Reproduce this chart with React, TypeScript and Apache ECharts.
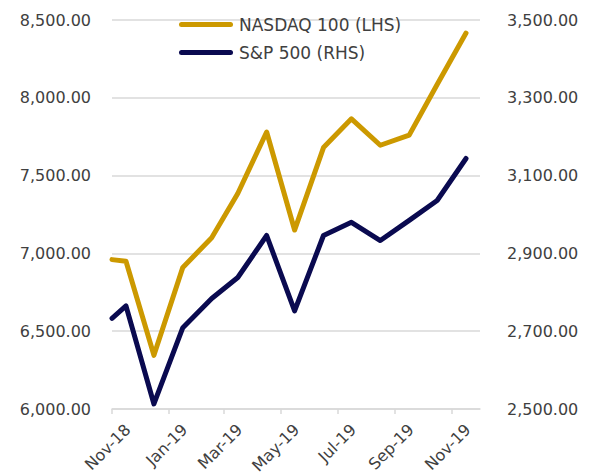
import React, { useEffect, useRef } from "react";
import * as echarts from "echarts";

const dates = [
  "2018-11-01", "2018-11-16", "2018-12-16", "2019-01-16", "2019-02-16",
  "2019-03-16", "2019-04-16", "2019-05-16", "2019-06-16", "2019-07-16",
  "2019-08-16", "2019-09-16", "2019-10-16", "2019-11-16",
];
const nasdaq100 = [6960, 6950, 6345, 6910, 7100, 7385, 7780, 7150, 7680, 7865, 7695, 7760, 8085, 8416];
const sp500 = [2733, 2765, 2513, 2709, 2784, 2838, 2946, 2752, 2946, 2980, 2933, 2985, 3036, 3144];
const tickDates = ["2018-11-01", "2019-01-01", "2019-03-01", "2019-05-01", "2019-07-01", "2019-09-01", "2019-11-01"];
const axisStart = "2018-11-01";
const axisEnd = "2019-12-01";
const seriesNames = ["NASDAQ 100 (LHS)", "S&P 500 (RHS)"];
const monthNames = ["Jan", "Feb", "Mar", "Apr", "May", "Jun", "Jul", "Aug", "Sep", "Oct", "Nov", "Dec"];

const DAY = 86400000;
const LABEL_SHIFT_DAYS = 17;

function ts(s: string): number {
  const [y, m, d] = s.split("-").map(Number);
  return Date.UTC(y, m - 1, d);
}
// day offset from the axis start
function dayOf(s: string): number {
  return Math.round((ts(s) - ts(axisStart)) / DAY);
}

function fmtNum(v: number): string {
  return v.toLocaleString("en-US", { minimumFractionDigits: 2, maximumFractionDigits: 2 });
}

export default function App() {
  const ref = useRef<HTMLDivElement>(null);
  useEffect(() => {
    if (!ref.current) return;
    const chart = echarts.init(ref.current, undefined, { renderer: "svg" });
    const font = "DejaVu Sans";
    const textColor = "#404040";
    const gridColor = "#D9D9D9";
    const pill = "path://M2.5,0 H51.5 A2.5,2.5 0 0 1 51.5,5 H2.5 A2.5,2.5 0 0 1 2.5,0 Z";
    chart.setOption({
      animation: false,
      backgroundColor: "#ffffff",
      textStyle: { fontFamily: font },
      grid: { left: 112, right: 113, top: 20, bottom: 65, containLabel: false, outerBoundsMode: "none" },
      legend: {
        orient: "vertical",
        left: 174,
        top: 11,
        itemWidth: 56,
        itemHeight: 5,
        itemGap: 11,
        textStyle: { fontFamily: font, fontSize: 17, color: textColor },
        data: [
          { name: seriesNames[0], icon: pill, itemStyle: { color: "#CC9900" } },
          { name: seriesNames[1], icon: pill, itemStyle: { color: "#0A0A50" } },
        ],
      },
      xAxis: {
        type: "value",
        min: 0,
        max: dayOf(axisEnd),
        splitLine: { show: false },
        axisLine: { show: true, lineStyle: { color: gridColor, width: 1.5 } },
        axisTick: {
          show: true,
          length: 5,
          lineStyle: { color: gridColor, width: 1.5 },
          customValues: tickDates.map(dayOf),
        },
        axisLabel: {
          rotate: 45,
          margin: 18,
          fontFamily: font,
          fontSize: 16,
          color: textColor,
          showMinLabel: true,
          showMaxLabel: true,
          customValues: tickDates.map((d) => dayOf(d) + LABEL_SHIFT_DAYS),
          formatter: (v: number) => {
            const d = new Date(ts(axisStart) + (v - LABEL_SHIFT_DAYS) * DAY);
            return monthNames[d.getUTCMonth()] + "-" + String(d.getUTCFullYear() % 100).padStart(2, "0");
          },
        },
      },
      yAxis: [
        {
          type: "value",
          min: 6000,
          max: 8500,
          interval: 500,
          position: "left",
          axisLine: { show: false },
          axisTick: { show: false },
          splitLine: { show: true, lineStyle: { color: gridColor, width: 1.5 } },
          axisLabel: { margin: 21, fontFamily: font, fontSize: 16, color: textColor, formatter: fmtNum },
        },
        {
          type: "value",
          min: 2500,
          max: 3500,
          interval: 200,
          position: "right",
          axisLine: { show: false },
          axisTick: { show: false },
          splitLine: { show: false },
          axisLabel: { margin: 27, fontFamily: font, fontSize: 16, color: textColor, formatter: fmtNum },
        },
      ],
      series: [
        {
          name: seriesNames[0],
          type: "line",
          yAxisIndex: 0,
          symbol: "none",
          color: "#CC9900",
          lineStyle: { color: "#CC9900", width: 5, cap: "round", join: "round" },
          data: dates.map((d, i) => [dayOf(d), nasdaq100[i]]),
          z: 3,
        },
        {
          name: seriesNames[1],
          type: "line",
          yAxisIndex: 1,
          symbol: "none",
          color: "#0A0A50",
          lineStyle: { color: "#0A0A50", width: 5, cap: "round", join: "round" },
          data: dates.map((d, i) => [dayOf(d), sp500[i]]),
          z: 2,
        },
      ],
    });
    return () => chart.dispose();
  }, []);
  return <div ref={ref} style={{ width: 593, height: 474, position: "absolute", left: 0, top: 0 }} />;
}
